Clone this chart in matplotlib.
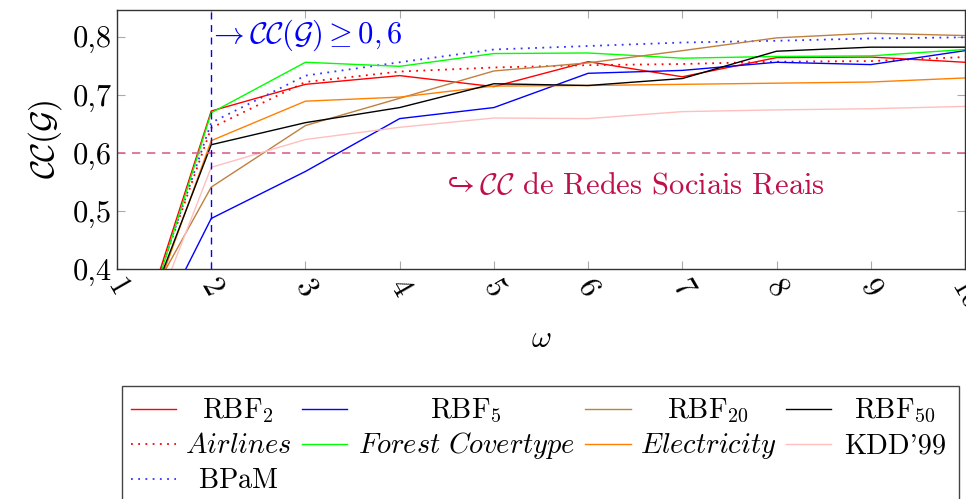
import matplotlib
matplotlib.use("Agg")
import matplotlib.pyplot as plt
from matplotlib.lines import Line2D
from matplotlib.patches import Rectangle

plt.rcParams['font.family'] = 'cmr10'
plt.rcParams['mathtext.fontset'] = 'cm'
plt.rcParams['axes.formatter.use_mathtext'] = True

omega = [1, 2, 3, 4, 5, 6, 7, 8, 9, 10]
rbf2 = [0.168, 0.672, 0.718, 0.733, 0.714, 0.757, 0.731, 0.764, 0.765, 0.756]
rbf5 = [0.165, 0.487, 0.568, 0.659, 0.678, 0.737, 0.742, 0.756, 0.752, 0.776]
rbf20 = [0.248, 0.541, 0.647, 0.694, 0.741, 0.755, 0.776, 0.798, 0.806, 0.802]
rbf50 = [0.191, 0.614, 0.652, 0.678, 0.719, 0.716, 0.728, 0.775, 0.782, 0.782]
airlines = [0.185, 0.643, 0.722, 0.740, 0.747, 0.751, 0.753, 0.757, 0.758, 0.765]
forest = [0.154, 0.669, 0.756, 0.749, 0.771, 0.772, 0.763, 0.766, 0.767, 0.778]
electricity = [0.172, 0.621, 0.689, 0.696, 0.715, 0.716, 0.718, 0.720, 0.722, 0.729]
kdd = [0.158, 0.575, 0.623, 0.644, 0.660, 0.659, 0.671, 0.674, 0.676, 0.680]
bpam = [0.177, 0.652, 0.733, 0.756, 0.778, 0.784, 0.790, 0.793, 0.797, 0.799]

yticks = [0.4, 0.5, 0.6, 0.7, 0.8]
ytick_labels = ['0,4', '0,5', '0,6', '0,7', '0,8']
xtick_labels = ['1', '2', '3', '4', '5', '6', '7', '8', '9', '10']

series = [
    (rbf2, r'$\mathrm{RBF}_2$', '#ff0000', '-'),
    (airlines, r'$\mathit{Airlines}$', '#ff0000', (0, (1, 3))),
    (bpam, r'$\mathrm{BPaM}$', '#3333ff', (0, (1, 3))),
    (rbf5, r'$\mathrm{RBF}_5$', '#0000ff', '-'),
    (forest, r'$\mathit{Forest\ Covertype}$', '#00ff00', '-'),
    (rbf20, r'$\mathrm{RBF}_{20}$', '#bf8040', '-'),
    (electricity, r'$\mathit{Electricity}$', '#ff8000', '-'),
    (rbf50, r'$\mathrm{RBF}_{50}$', '#000000', '-'),
    (kdd, "KDD'99", '#ffbfbf', '-'),
]

FS = 22
W, H = 966, 499

fig = plt.figure(figsize=(W/100, H/100), dpi=100)
ax = fig.add_axes([117/W, 1-269/H, (965-117)/W, (269-10)/H])

styles = {}
for vals, lab, col, ls in series:
    lw = 1.3 if ls != '-' else 1.0
    ax.plot(omega, vals, color=col, linestyle=ls, lw=lw, label=lab)
    styles[lab] = (col, ls, lw)

ax.axhline(0.6, color='#d9668c', linestyle=(0, (5, 4)), lw=1.2)
ax.axvline(2, color='#0000ff', linestyle=(0, (5, 4)), lw=1.0)

ax.text(1.97, 0.803, r'$\rightarrow\mathcal{CC}(\mathcal{G})\geq 0,6$', color='#0000ff',
        fontsize=FS, ha='left', va='center')
ax.text(4.44, 0.543, r'$\hookrightarrow\mathcal{CC}$ de Redes Sociais Reais', color='#c0104a',
        fontsize=FS, ha='left', va='center')

ax.set_xlim(1, 10)
ax.set_ylim(0.4, 0.846)
ax.set_xticks(omega)
ax.set_xticklabels(xtick_labels, rotation=-60, ha='center', va='top', fontsize=FS)
ax.set_yticks(yticks)
ax.set_yticklabels(ytick_labels, fontsize=FS)
ax.tick_params(direction='in', length=6, color='#aaaaaa', top=True, right=True, pad=4)
for s in ax.spines.values():
    s.set_color('#333333')
    s.set_linewidth(1.0)

ax.set_xlabel(r'$\omega$', fontsize=FS, labelpad=8)
ax.set_ylabel(r'$\mathcal{CC}(\mathcal{G})$', fontsize=24, labelpad=6)

# Legend (pgfplots style: 4 columns, centred text)
legend_rows = [
    [r'$\mathrm{RBF}_2$', r'$\mathrm{RBF}_5$', r'$\mathrm{RBF}_{20}$', r'$\mathrm{RBF}_{50}$'],
    [r'$\mathit{Airlines}$', r'$\mathit{Forest\ Covertype}$', r'$\mathit{Electricity}$', "KDD'99"],
    [r'$\mathrm{BPaM}$'],
]
handle_x = [(131, 176), (302, 347), (585, 631), (786, 831)]
text_cx = [238, 466, 708, 895]
row_y = [409, 444, 479]

fig.add_artist(Rectangle((122/W, 1-512/H), (959-122)/W, (512-386)/H,
                         transform=fig.transFigure, fill=False,
                         edgecolor='#444444', lw=1.0))
for r, row in enumerate(legend_rows):
    for c, lab in enumerate(row):
        col, ls, lw = styles[lab]
        x0, x1 = handle_x[c]
        y = 1 - row_y[r]/H
        fig.add_artist(Line2D([x0/W, x1/W], [y, y], transform=fig.transFigure,
                              color=col, linestyle=ls, lw=lw))
        fig.text(text_cx[c]/W, 1-(row_y[r]+9)/H, lab, fontsize=20.5,
                 ha='center', va='baseline')

fig.savefig('out.png', dpi=100)
